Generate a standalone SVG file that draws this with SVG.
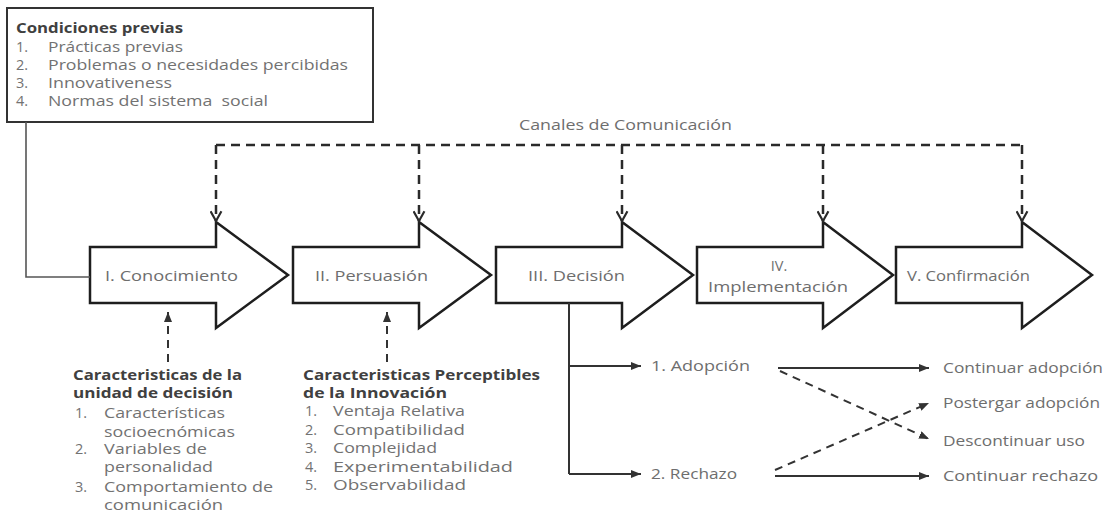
<svg xmlns="http://www.w3.org/2000/svg" width="1113" height="515" viewBox="0 0 1113 515">
  <style>
    .bg { fill: #ffffff; }
    .stage { fill: #ffffff; stroke: #1e1e1e; stroke-width: 2.5; stroke-linejoin: miter; }
    .box { fill: #ffffff; stroke: #333333; stroke-width: 2; }
    .txt { font-family: "Open Sans", "Liberation Sans", sans-serif; font-size: 14.5px; fill: #727272; white-space: pre; }
    .ttl { font-family: "Open Sans", "Liberation Sans", sans-serif; font-size: 14.5px; font-weight: bold; fill: #404040; }
    .lbl { font-family: "Open Sans", "Liberation Sans", sans-serif; font-size: 14.5px; fill: #6e6e6e; }
    .dash { fill: none; stroke: #2a2a2a; stroke-width: 2.5; stroke-dasharray: 9 6; }
    .dashthin { fill: none; stroke: #333333; stroke-width: 2; stroke-dasharray: 8 6; }
    .solid { fill: none; stroke: #333333; stroke-width: 2; }
    .feed { fill: none; stroke: #555555; stroke-width: 1.6; }
  </style>
  <defs>
    <marker id="vopen" viewBox="0 0 12 12" refX="10" refY="6" markerWidth="13" markerHeight="13" orient="auto" markerUnits="userSpaceOnUse">
      <path d="M1,1 L10,6 L1,11" fill="none" stroke="#2a2a2a" stroke-width="2"/>
    </marker>
    <marker id="head" viewBox="0 0 10 8" refX="10" refY="4" markerWidth="10" markerHeight="8" orient="auto" markerUnits="userSpaceOnUse">
      <path d="M0,0 L10,4 L0,8 Z" fill="#333333"/>
    </marker>
  </defs>

  <rect class="bg" x="0" y="0" width="1113" height="515"/>

  <!-- Preconditions box -->
  <g id="condiciones">
    <rect class="box" x="7" y="8" width="366" height="114"/>
    <text class="ttl" x="16" y="33" textLength="167" lengthAdjust="spacingAndGlyphs">Condiciones previas</text>
    <text class="txt" x="16" y="52">1.</text>
    <text class="txt" x="48" y="52" textLength="135" lengthAdjust="spacingAndGlyphs">Prácticas previas</text>
    <text class="txt" x="16" y="70">2.</text>
    <text class="txt" x="48" y="70" textLength="300" lengthAdjust="spacingAndGlyphs">Problemas o necesidades percibidas</text>
    <text class="txt" x="16" y="88">3.</text>
    <text class="txt" x="48" y="88" textLength="124" lengthAdjust="spacingAndGlyphs">Innovativeness</text>
    <text class="txt" x="16" y="106">4.</text>
    <text class="txt" x="48" y="106" textLength="220" lengthAdjust="spacingAndGlyphs" xml:space="preserve">Normas del sistema  social</text>
  </g>

  <!-- Stage arrows -->
  <g id="conocimiento">
    <path class="stage" d="M90,247 H216 V222 L288,275 L216,328 V303 H90 Z"/>
    <text class="lbl" x="105" y="281" textLength="133" lengthAdjust="spacingAndGlyphs">I. Conocimiento</text>
  </g>
  <g id="persuasion">
    <path class="stage" d="M293,247 H419 V222 L491,275 L419,328 V303 H293 Z"/>
    <text class="lbl" x="315" y="281" textLength="113" lengthAdjust="spacingAndGlyphs">II. Persuasión</text>
  </g>
  <g id="decision">
    <path class="stage" d="M496,247 H622 V222 L693,275 L622,328 V303 H496 Z"/>
    <text class="lbl" x="528" y="281" textLength="97" lengthAdjust="spacingAndGlyphs">III. Decisión</text>
  </g>
  <g id="implementacion">
    <path class="stage" d="M697,247 H823 V222 L893,275 L823,328 V303 H697 Z"/>
    <text class="lbl" x="779" y="271" text-anchor="middle">IV.</text>
    <text class="lbl" x="708" y="292" textLength="140" lengthAdjust="spacingAndGlyphs">Implementación</text>
  </g>
  <g id="confirmacion">
    <path class="stage" d="M896,247 H1022 V222 L1092,275 L1022,328 V303 H896 Z"/>
    <text class="lbl" x="907" y="281" textLength="123" lengthAdjust="spacingAndGlyphs">V. Confirmación</text>
  </g>

  <!-- Communication channels label -->
  <g id="canales">
    <text class="lbl" x="519" y="130" textLength="213" lengthAdjust="spacingAndGlyphs">Canales de Comunicación</text>
  </g>

  <!-- Decision-unit characteristics -->
  <g id="unidad-decision">
    <text class="ttl" x="73" y="380" textLength="169" lengthAdjust="spacingAndGlyphs">Caracteristicas de la</text>
    <text class="ttl" x="73" y="398" textLength="160" lengthAdjust="spacingAndGlyphs">unidad de decisión</text>
    <text class="txt" x="75" y="418">1.</text>
    <text class="txt" x="104" y="418" textLength="121" lengthAdjust="spacingAndGlyphs">Características</text>
    <text class="txt" x="104" y="437" textLength="131" lengthAdjust="spacingAndGlyphs">socioecnómicas</text>
    <text class="txt" x="75" y="454">2.</text>
    <text class="txt" x="104" y="454" textLength="103" lengthAdjust="spacingAndGlyphs">Variables de</text>
    <text class="txt" x="104" y="472" textLength="109" lengthAdjust="spacingAndGlyphs">personalidad</text>
    <text class="txt" x="75" y="492">3.</text>
    <text class="txt" x="104" y="492" textLength="169" lengthAdjust="spacingAndGlyphs">Comportamiento de</text>
    <text class="txt" x="104" y="510" textLength="119" lengthAdjust="spacingAndGlyphs">comunicación</text>
  </g>

  <!-- Perceived innovation characteristics -->
  <g id="innovacion">
    <text class="ttl" x="303" y="380" textLength="237" lengthAdjust="spacingAndGlyphs">Caracteristicas Perceptibles</text>
    <text class="ttl" x="303" y="398" textLength="144" lengthAdjust="spacingAndGlyphs">de la Innovación</text>
    <text class="txt" x="305" y="416">1.</text>
    <text class="txt" x="333" y="416" textLength="132" lengthAdjust="spacingAndGlyphs">Ventaja Relativa</text>
    <text class="txt" x="305" y="435">2.</text>
    <text class="txt" x="333" y="435" textLength="132" lengthAdjust="spacingAndGlyphs">Compatibilidad</text>
    <text class="txt" x="305" y="453">3.</text>
    <text class="txt" x="333" y="453" textLength="104" lengthAdjust="spacingAndGlyphs">Complejidad</text>
    <text class="txt" x="305" y="472">4.</text>
    <text class="txt" x="333" y="472" textLength="180" lengthAdjust="spacingAndGlyphs">Experimentabilidad</text>
    <text class="txt" x="305" y="490">5.</text>
    <text class="txt" x="333" y="490" textLength="133" lengthAdjust="spacingAndGlyphs">Observabilidad</text>
  </g>

  <!-- Decision outcomes -->
  <g id="adopcion">
    <text class="lbl" x="651" y="371" textLength="99" lengthAdjust="spacingAndGlyphs">1. Adopción</text>
  </g>
  <g id="rechazo">
    <text class="lbl" x="651" y="479" textLength="86" lengthAdjust="spacingAndGlyphs">2. Rechazo</text>
  </g>
  <g id="continuar-adopcion">
    <text class="lbl" x="943" y="373" textLength="160" lengthAdjust="spacingAndGlyphs">Continuar adopción</text>
  </g>
  <g id="postergar-adopcion">
    <text class="lbl" x="943" y="408" textLength="157" lengthAdjust="spacingAndGlyphs">Postergar adopción</text>
  </g>
  <g id="descontinuar-uso">
    <text class="lbl" x="943" y="446" textLength="142" lengthAdjust="spacingAndGlyphs">Descontinuar uso</text>
  </g>
  <g id="continuar-rechazo">
    <text class="lbl" x="943" y="481" textLength="155" lengthAdjust="spacingAndGlyphs">Continuar rechazo</text>
  </g>

  <!-- Connectors -->
  <g id="connectors">
    <!-- preconditions feed into the first stage -->
    <polyline class="feed" points="26,122 26,277 90,277"/>

    <!-- communication channels bus -->
    <path class="dash" d="M216,145 H1022"/>
    <path class="dash" d="M216,145 V221" marker-end="url(#vopen)"/>
    <path class="dash" d="M419,145 V221" marker-end="url(#vopen)"/>
    <path class="dash" d="M622,145 V221" marker-end="url(#vopen)"/>
    <path class="dash" d="M823,145 V221" marker-end="url(#vopen)"/>
    <path class="dash" d="M1022,145 V221" marker-end="url(#vopen)"/>

    <!-- characteristic groups pointing up into stages -->
    <path class="dashthin" d="M168,362 V312" stroke-dasharray="6 5" marker-end="url(#head)"/>
    <path class="dashthin" d="M387,362 V312" stroke-dasharray="6 5" marker-end="url(#head)"/>

    <!-- decision branches -->
    <path class="solid" d="M569,303 V474"/>
    <path class="solid" d="M569,366 H641" marker-end="url(#head)"/>
    <path class="solid" d="M569,474 H641" marker-end="url(#head)"/>

    <!-- outcomes -->
    <path class="solid" d="M778,368 H929" marker-end="url(#head)"/>
    <path class="dashthin" d="M780,371 L929,439" marker-end="url(#head)"/>
    <path class="dashthin" d="M775,470 L929,403" marker-end="url(#head)"/>
    <path class="solid" d="M775,476 H929" marker-end="url(#head)"/>
  </g>
</svg>
